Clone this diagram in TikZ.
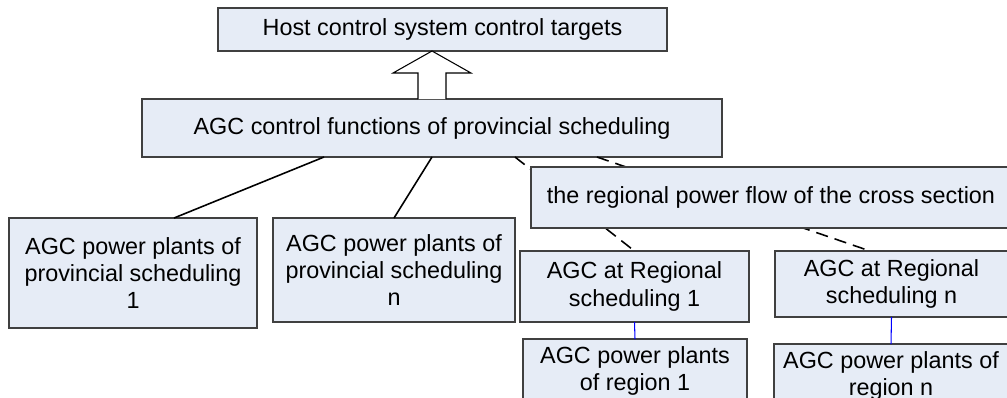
\documentclass[tikz,border=0pt]{standalone}
\usepackage{fontspec}
\setmainfont{Liberation Sans}
\usetikzlibrary{calc}
\definecolor{boxfill}{RGB}{230,236,246}
\definecolor{boxline}{RGB}{64,64,64}
\begin{document}
\begin{tikzpicture}[
  x=0.02cm, y=-0.02cm,
  box/.style={draw=boxline, fill=boxfill, line width=0.7pt, align=center, inner sep=2pt, outer sep=0pt},
  link/.style={line width=0.9pt},
  dashlink/.style={line width=0.9pt, dash pattern=on 7pt off 4pt},
  bluelink/.style={blue, line width=0.6pt},
  hollow/.style={draw=black, fill=white, line width=0.6pt},
  every node/.style={font=\fontsize{13.3}{15.5}\selectfont}
]
  \clip (0,0) rectangle (1007,397);

  \node[box, minimum width=8.98cm, minimum height=0.86cm] (host) at (442.5,29.5) {Host control system control targets};
  \node[box, minimum width=11.6cm, minimum height=1.16cm] (ctrl) at (432,128) {AGC control functions of provincial scheduling};

  \node[box, minimum width=4.96cm, minimum height=2.2cm] (plant1) at (133,273) {AGC power plants of\\provincial scheduling\\1};
  \node[box, minimum width=4.84cm, minimum height=2.08cm] (plantn) at (394,270) {AGC power plants of\\provincial scheduling\\n};

  \node[box, minimum width=4.58cm, minimum height=1.42cm] (reg1) at (634.5,286.5) {AGC at Regional\\scheduling 1};
  \node[box, minimum width=4.66cm, minimum height=1.32cm] (regn) at (891.5,284) {AGC at Regional\\scheduling n};
  \node[box, minimum width=4.48cm, minimum height=1.28cm] (rp1) at (635,371) {AGC power plants\\of region 1};
  \node[box, minimum width=4.68cm, minimum height=1.28cm] (rpn) at (891,376) {AGC power plants of\\region n};

  % hollow arrow up to the host system
  \draw[hollow] ($(ctrl.north)+(-14,0)$) -- ++(0,-26) -- ++(-25,0) -- (host.south -| ctrl.north)
    -- ($(ctrl.north)+(39,-26)$) -- ++(-25,0) -- ($(ctrl.north)+(14,0)$);

  \draw[link] ([xshift=-2.16cm]ctrl.south) -- ([xshift=0.82cm]plant1.north);
  \draw[link] (ctrl.south) -- (plantn.north);

  \draw[dashlink] ([xshift=1.66cm]ctrl.south) -- (reg1.north);
  \draw[dashlink] ([xshift=3.3cm]ctrl.south) -- ([xshift=-0.43cm]regn.north);

  % cross section box lies over the dashed links
  \node[box, minimum width=9.6cm, minimum height=1.22cm] (flow) at (771,197.5) {the regional power flow of the cross section};

  \draw[bluelink] (reg1.south) -- (rp1.north);
  \draw[bluelink] (regn.south) -- (rpn.north);
\end{tikzpicture}
\end{document}
